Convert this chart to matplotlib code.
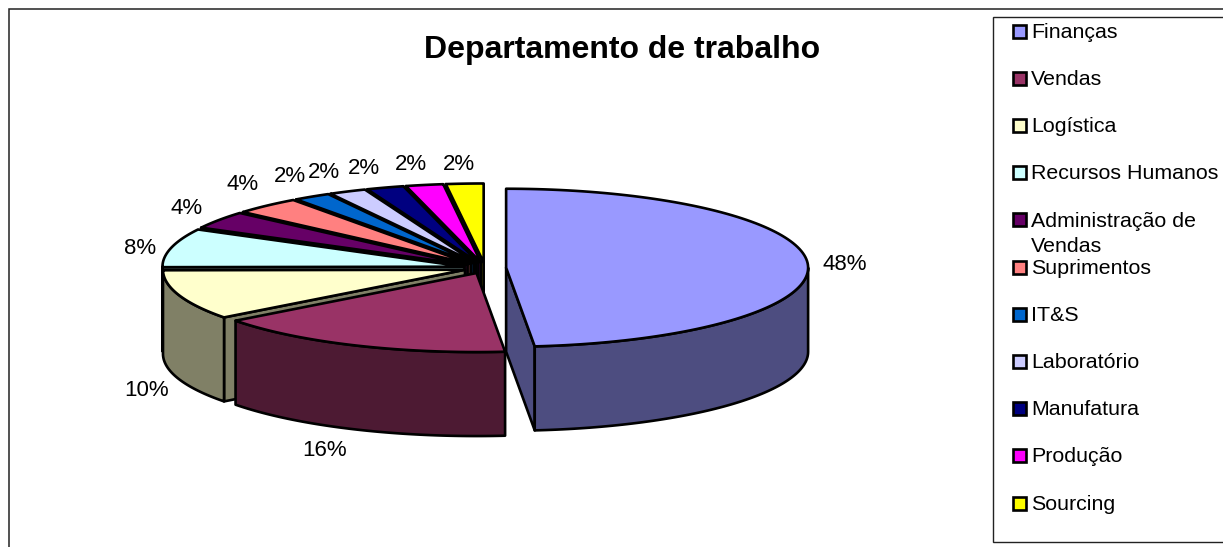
import numpy as np
import matplotlib
matplotlib.use('Agg')
import matplotlib.pyplot as plt
from matplotlib.patches import Polygon, Rectangle

plt.rcParams['font.family'] = ['Liberation Sans', 'DejaVu Sans']

# Dados do grafico
departamentos = ['Finanças', 'Vendas', 'Logística', 'Recursos Humanos',
                 'Administração de\nVendas', 'Suprimentos', 'IT&S', 'Laboratório',
                 'Manufatura', 'Produção', 'Sourcing']
valores = [48.49, 16.21, 10.2, 7.9, 3.6, 3.6, 2.0, 2.0, 2.0, 2.0, 2.0]
cores = ['#9999FF', '#993366', '#FFFFCC', '#CCFFFF', '#660066', '#FF8080',
         '#0066CC', '#CCCCFF', '#000080', '#FF00FF', '#FFFF00']

# Geometria da pizza 3D, em pixels da imagem
cx, cy = 485, 268
rx, ry = 302, 79
profundidade = 84
explode = 0.07

# Posicao dos rotulos, mesma ordem de valores
rotulos_x = [845, 325, 147, 140, 187, 243, 290, 324, 364, 411, 459]
rotulos_y = [264, 451, 390, 248, 209, 185, 177, 172, 168, 164, 164]

fig = plt.figure(figsize=(12.23, 5.47), dpi=100)
ax = fig.add_axes([0, 0, 1, 1])
ax.set_xlim(0, 1223)
ax.set_ylim(547, 0)
ax.axis('off')


def borda(t, ax0, ay0):
    return ax0 + rx * np.sin(t), ay0 - ry * np.cos(t)


def escurece(cor):
    return tuple(c * 0.5 for c in matplotlib.colors.to_rgb(cor))


def poly(xs, ys, cor, z):
    ax.add_patch(Polygon(np.column_stack([xs, ys]), closed=True, facecolor=cor,
                         edgecolor='black', linewidth=1.9, joinstyle='round', zorder=z))


acum = np.cumsum([0] + valores) / sum(valores) * 2 * np.pi
fatias = []
for i in range(len(valores)):
    a0, a1 = acum[i], acum[i + 1]
    meio = (a0 + a1) / 2
    fatias.append((np.cos(meio), i, a0, a1, meio))

# desenha de tras para frente
z = 2
for _, i, a0, a1, meio in sorted(fatias, key=lambda f: -f[0]):
    ox = cx + explode * rx * np.sin(meio)
    oy = cy - explode * ry * np.cos(meio)
    lado = escurece(cores[i])

    # paredes radiais, so as que olham para frente
    for a, visivel in ((a0, np.sin(a0) < 0), (a1, np.sin(a1) > 0)):
        if visivel:
            ex, ey = borda(a, ox, oy)
            poly([ox, ex, ex, ox], [oy, ey, ey + profundidade, oy + profundidade], lado, z)
            z += 1

    # parede externa, so a parte da frente
    b0, b1 = max(a0, np.pi / 2), min(a1, 3 * np.pi / 2)
    if b1 > b0:
        t = np.linspace(b0, b1, 80)
        ex, ey = borda(t, ox, oy)
        poly(np.r_[ex, ex[::-1]], np.r_[ey, ey[::-1] + profundidade], lado, z)
        z += 1

    # topo
    t = np.linspace(a0, a1, 120)
    ex, ey = borda(t, ox, oy)
    poly(np.r_[ox, ex], np.r_[oy, ey], cores[i], z)
    z += 1

for v, x, y in zip(valores, rotulos_x, rotulos_y):
    ax.text(x, y, '%d%%' % round(v), ha='center', va='center', fontsize=16, color='black', zorder=200)

ax.text(622, 50, 'Departamento de trabalho', ha='center', va='center',
        fontsize=23, fontweight='bold', color='black', zorder=200)

# moldura do grafico
ax.plot([8.5, 8.5, 1223], [547, 8.5, 8.5], color='#222222', lw=1.1, zorder=1, solid_joinstyle='miter')

# legenda
ax.add_patch(Rectangle((992.5, 16.5), 240, 525, facecolor='white', edgecolor='#222222', lw=1.0, zorder=150))
for i, nome in enumerate(departamentos):
    y = 31 + 47.2 * i
    ax.add_patch(Rectangle((1012.5, y - 6.5), 13, 13, facecolor=cores[i], edgecolor='black', lw=1.9, zorder=160))
    if '\n' in nome:
        ax.text(1031, y - 8, nome, ha='left', va='top', fontsize=15.4, linespacing=1.4, zorder=160)
    else:
        ax.text(1031, y + 1, nome, ha='left', va='center', fontsize=15.4, zorder=160)

fig.savefig('out.png', dpi=100)
